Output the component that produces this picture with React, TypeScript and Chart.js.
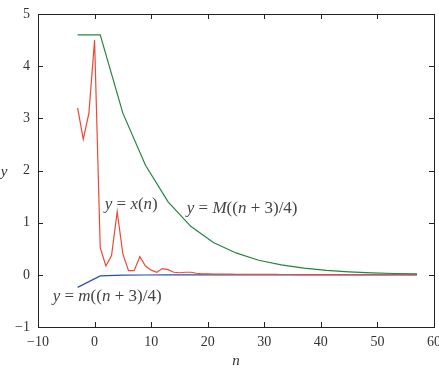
import React, { useEffect, useRef } from "react";
import { Chart, registerables } from "chart.js";

Chart.register(...registerables);

// x(n) sample indices and values
const nX = [-3, -2, -1, 0, 1, 2, 3, 4, 5, 6, 7, 8, 9, 10, 11, 12, 13, 14, 15, 16, 17, 18, 19, 20,
  21, 22, 23, 24, 25, 26, 27, 28, 29, 30, 31, 32, 33, 34, 35, 36, 37, 38, 39, 40,
  41, 42, 43, 44, 45, 46, 47, 48, 49, 50, 51, 52, 53, 54, 55, 56, 57];
const xValues = [3.2, 2.6, 3.1, 4.5, 0.52, 0.17, 0.37, 1.21, 0.4, 0.08, 0.08, 0.35, 0.17, 0.09, 0.05, 0.12, 0.1, 0.05, 0.04, 0.05, 0.05, 0.03, 0.02, 0.02,
  0.015, 0.015, 0.012, 0.012, 0.01, 0.01, 0.01, 0.009, 0.008, 0.008, 0.007, 0.007, 0.006, 0.006, 0.006, 0.005, 0.005, 0.005, 0.005, 0.004,
  0.004, 0.004, 0.004, 0.003, 0.003, 0.003, 0.003, 0.003, 0.002, 0.002, 0.002, 0.002, 0.002, 0.002, 0.002, 0.002, 0.002];

// M((n+3)/4) and m((n+3)/4), sampled every 4 steps of n
const nM = [-3, 1, 5, 9, 13, 17, 21, 25, 29, 33, 37, 41, 45, 49, 53, 57];
const bigMValues = [4.6, 4.6, 3.1, 2.1, 1.4, 0.93, 0.62, 0.42, 0.28, 0.19, 0.13, 0.085, 0.057, 0.038, 0.026, 0.017];
const smallMValues = [-0.24, -0.02, -0.006, -0.003, -0.002, -0.001, -0.001, 0, 0, 0, 0, 0, 0, 0, 0, 0];

const xTicks = [-10, 0, 10, 20, 30, 40, 50, 60];
const yTicks = [-1, 0, 1, 2, 3, 4, 5];

const SERIF = "'Liberation Serif', 'Times New Roman', serif";

type Seg = [string, boolean];
const labels: { segs: Seg[]; n: number; y: number }[] = [
  { segs: [["y", true], [" = ", false], ["x", true], ["(", false], ["n", true], [")", false]], n: 1.8, y: 1.34 },
  { segs: [["y", true], [" = ", false], ["M", true], ["((", false], ["n", true], [" + 3)/4)", false]], n: 16.3, y: 1.28 },
  { segs: [["y", true], [" = ", false], ["m", true], ["((", false], ["n", true], [" + 3)/4)", false]], n: -7.4, y: -0.42 },
];

export default function App() {
  const ref = useRef<HTMLCanvasElement>(null);
  useEffect(() => {
    document.body.style.margin = "0";
    const canvas = ref.current!;
    const drawRich = (ctx: CanvasRenderingContext2D, segs: Seg[], x: number, y: number, size: number) => {
      let cx = x;
      ctx.textBaseline = "middle";
      ctx.textAlign = "left";
      for (const [t, it] of segs) {
        ctx.font = `${it ? "italic " : ""}${size}px ${SERIF}`;
        ctx.fillText(t, cx, y);
        cx += ctx.measureText(t).width;
      }
    };
    const framePlugin = {
      id: "frame",
      afterDraw(chart: any) {
        const ctx: CanvasRenderingContext2D = chart.ctx;
        const { left, right, top, bottom } = chart.chartArea;
        const xs = chart.scales.x;
        const ys = chart.scales.y;
        ctx.save();
        ctx.strokeStyle = "#222";
        ctx.lineWidth = 1;
        ctx.strokeRect(Math.round(left) + 0.5, Math.round(top) + 0.5, Math.round(right - left), Math.round(bottom - top));
        ctx.beginPath();
        const tl = 5;
        for (const v of xTicks) {
          const px = Math.round(xs.getPixelForValue(v)) + 0.5;
          ctx.moveTo(px, bottom); ctx.lineTo(px, bottom - tl);
          ctx.moveTo(px, top); ctx.lineTo(px, top + tl);
        }
        for (const v of yTicks) {
          const py = Math.round(ys.getPixelForValue(v)) + 0.5;
          ctx.moveTo(left, py); ctx.lineTo(left + tl, py);
          ctx.moveTo(right, py); ctx.lineTo(right - tl, py);
        }
        ctx.stroke();
        ctx.fillStyle = "#444";
        for (const l of labels) {
          drawRich(ctx, l.segs, xs.getPixelForValue(l.n), ys.getPixelForValue(l.y), 17);
        }
        ctx.font = `italic 15px ${SERIF}`;
        ctx.textAlign = "center";
        ctx.textBaseline = "middle";
        ctx.fillStyle = "#333";
        ctx.fillText("n", (left + right) / 2, 361);
        ctx.fillText("y", 4, (top + bottom) / 2 + 2);
        ctx.restore();
      },
    };
    const chart = new Chart(canvas, {
      type: "line",
      data: {
        datasets: [
          {
            label: "x(n)",
            data: nX.map((n, i) => ({ x: n, y: xValues[i] })),
            borderColor: "rgb(240,72,52)",
            borderWidth: 1.2,
            pointRadius: 0,
            tension: 0,
          },
          {
            label: "m((n+3)/4)",
            data: nM.map((n, i) => ({ x: n, y: smallMValues[i] })),
            borderColor: "rgb(40,80,175)",
            borderWidth: 1.2,
            pointRadius: 0,
            tension: 0,
          },
          {
            label: "M((n+3)/4)",
            data: nM.map((n, i) => ({ x: n, y: bigMValues[i] })),
            borderColor: "rgb(40,130,65)",
            borderWidth: 1.2,
            pointRadius: 0,
            tension: 0,
          },
        ],
      },
      options: {
        responsive: false,
        animation: false,
        devicePixelRatio: 1,
        layout: { padding: { top: 14, right: 5, left: 0, bottom: 0 } },
        plugins: { legend: { display: false }, tooltip: { enabled: false } },
        scales: {
          x: {
            type: "linear",
            min: -10,
            max: 60,
            afterBuildTicks: (s: any) => { s.ticks = xTicks.map((v) => ({ value: v })); },
            afterFit: (s: any) => { s.height = 43; s.paddingLeft = 0; s.paddingRight = 0; },
            grid: { display: false, drawTicks: false },
            border: { display: false },
            ticks: {
              padding: 7,
              color: "#333",
              font: { family: SERIF, size: 14 },
              maxRotation: 0,
              callback: (v: any) => String(v).replace("-", "\u2212"),
            },
          },
          y: {
            type: "linear",
            min: -1,
            max: 5,
            afterBuildTicks: (s: any) => { s.ticks = yTicks.map((v) => ({ value: v })); },
            afterFit: (s: any) => { s.width = 38; s.paddingTop = 0; s.paddingBottom = 0; },
            grid: { display: false, drawTicks: false },
            border: { display: false },
            ticks: {
              padding: 8,
              color: "#333",
              font: { family: SERIF, size: 14 },
              callback: (v: any) => String(v).replace("-", "\u2212"),
            },
          },
        },
      },
      plugins: [framePlugin],
    });
    return () => chart.destroy();
  }, []);
  return <canvas ref={ref} width={439} height={370} style={{ display: "block" }} />;
}
